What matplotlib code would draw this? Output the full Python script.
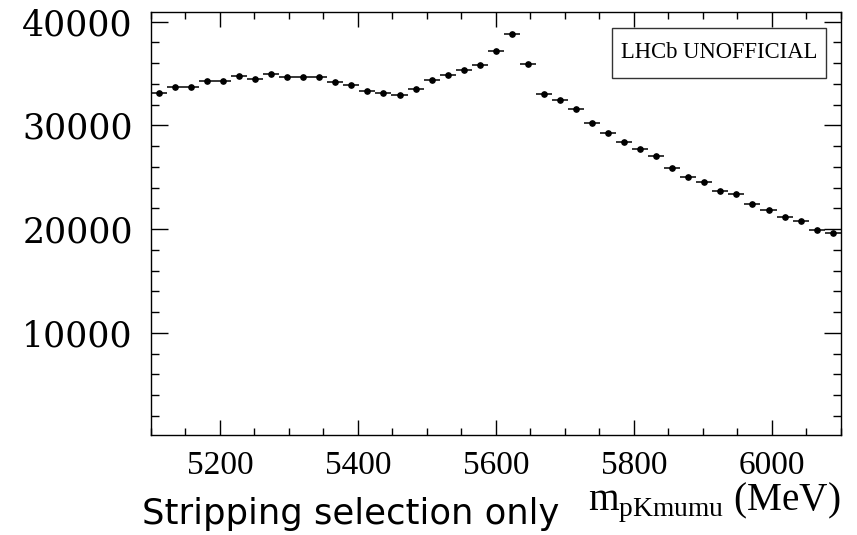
import numpy as np
import matplotlib.pyplot as plt
from matplotlib.patches import Rectangle
from matplotlib.ticker import MultipleLocator

plt.rcParams['mathtext.fontset'] = 'custom'
plt.rcParams['mathtext.rm'] = 'Liberation Serif'

# mass histogram, 43 bins from 5100 to 6100 MeV
m_lo, m_hi, nbins = 5100, 6100, 43
counts = [33150, 33670, 33670, 34280, 34280, 34790, 34500, 34930, 34640, 34640,
          34640, 34210, 33920, 33340, 33150, 32900, 33480, 34380, 34830, 35340,
          35800, 37200, 38840, 35890, 33030, 32450, 31610, 30200, 29310, 28420,
          27690, 27010, 25890, 25020, 24540, 23640, 23350, 22440, 21800, 21190,
          20800, 19930, 19590]

xticks = [5200, 5400, 5600, 5800, 6000]
yticks = [10000, 20000, 30000, 40000]

edges = np.linspace(m_lo, m_hi, nbins + 1)
centres = 0.5*(edges[1:] + edges[:-1])
halfw = 0.5*(edges[1:] - edges[:-1])
counts = np.array(counts, dtype=float)

fig = plt.figure(figsize=(8.57, 5.35), dpi=100)
ax = fig.add_axes([0.176, 0.1864, 0.805, 0.7918])

ax.errorbar(centres, counts, xerr=halfw, yerr=np.sqrt(counts), fmt='o',
            color='black', ms=3.8, elinewidth=1.1, capsize=0)

ax.set_xlim(m_lo, m_hi)
ax.set_ylim(130, 40960)

ax.xaxis.set_major_locator(MultipleLocator(200))
ax.xaxis.set_minor_locator(MultipleLocator(50))
ax.yaxis.set_major_locator(MultipleLocator(10000))
ax.yaxis.set_minor_locator(MultipleLocator(2000))
ax.set_xticks(xticks)
ax.set_yticks(yticks)

ax.tick_params(which='both', direction='in', top=True, right=True, width=1.0)
ax.tick_params(axis='x', which='major', length=11, pad=11)
ax.tick_params(axis='x', which='minor', length=5)
ax.tick_params(axis='y', which='major', length=12, pad=13)
ax.tick_params(axis='y', which='minor', length=6)

for lab in ax.get_xticklabels():
    lab.set_fontfamily('Liberation Serif')
    lab.set_fontsize(24)
for lab in ax.get_yticklabels():
    lab.set_fontfamily('DejaVu Serif')
    lab.set_fontsize(25)

for sp in ax.spines.values():
    sp.set_linewidth(1.0)

# LHCb label box
ax.add_patch(Rectangle((0.669, 0.844), 0.309, 0.117, transform=ax.transAxes,
                       facecolor='white', edgecolor='#333333', lw=1.0, zorder=5))
ax.text(0.8235, 0.9025, 'LHCb UNOFFICIAL', transform=ax.transAxes,
        ha='center', va='center', fontsize=16.3, family='Liberation Serif', zorder=6)

fig.text(0.981, 0.0467, r'm$_{\mathrm{pKmumu}}$ (MeV)', ha='right', va='baseline',
         fontsize=28.3, family='Liberation Serif')
fig.text(0.1657, 0.0206, 'Stripping selection only', ha='left', va='baseline',
         fontsize=25.5, family='DejaVu Sans')

fig.savefig('out.png', dpi=100)
